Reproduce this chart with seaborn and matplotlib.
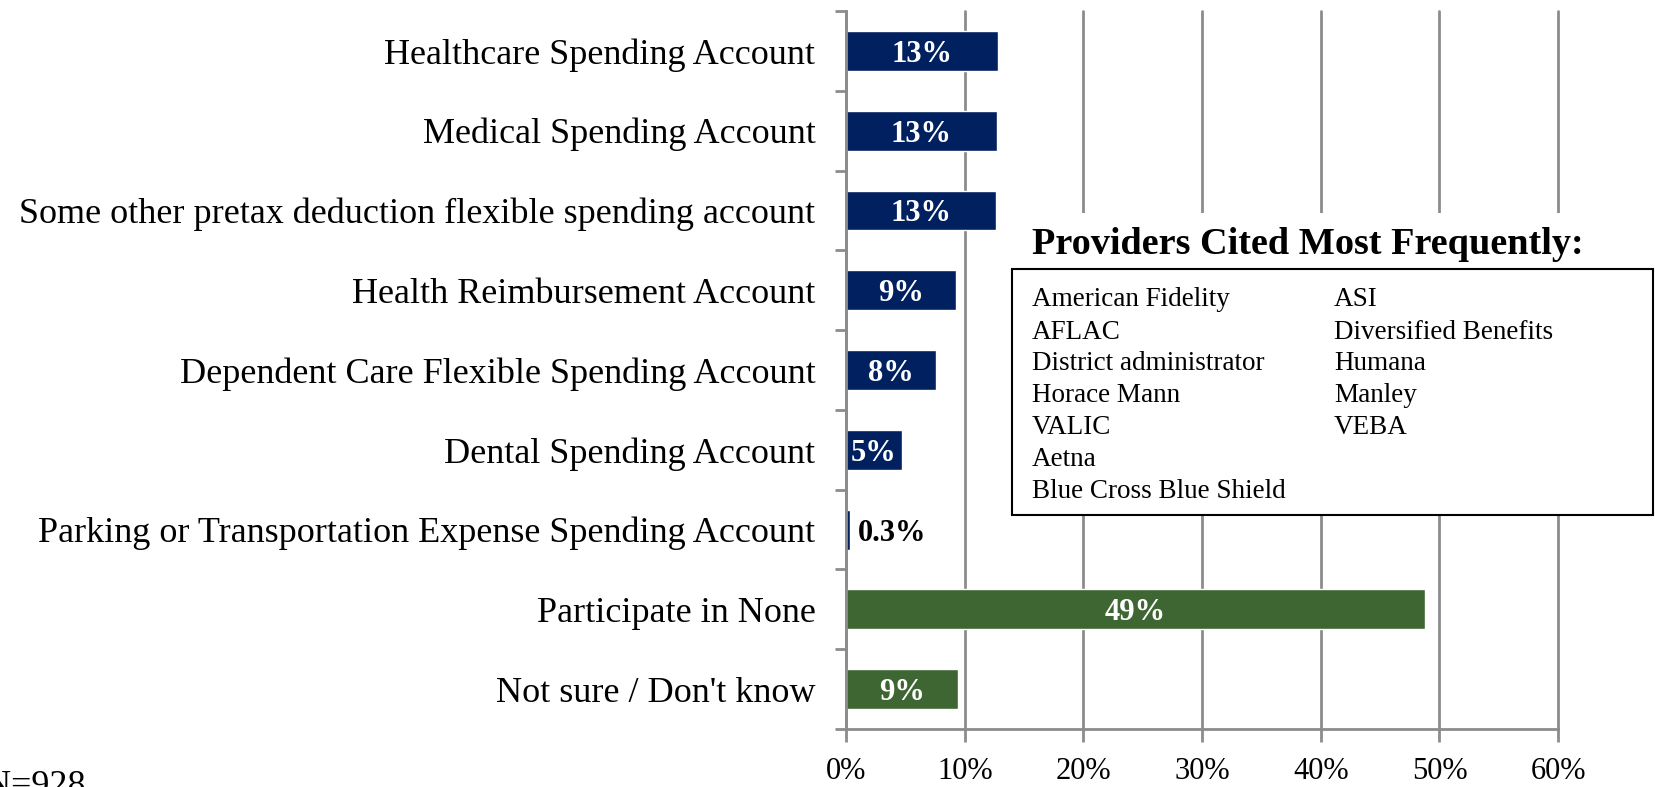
import numpy as np
import pandas as pd
import matplotlib
matplotlib.use("Agg")
from matplotlib import pyplot as plt
from matplotlib.patches import Rectangle
from matplotlib.ticker import FixedLocator, PercentFormatter
import seaborn as sns

categories = ["Healthcare Spending Account",
              "Medical Spending Account",
              "Some other pretax deduction flexible spending account",
              "Health Reimbursement Account",
              "Dependent Care Flexible Spending Account",
              "Dental Spending Account",
              "Parking or Transportation Expense Spending Account",
              "Participate in None",
              "Not sure / Don't know"]
values = [12.8, 12.7, 12.6, 9.3, 7.6, 4.7, 0.3, 48.8, 9.4]
labels = ["13%", "13%", "13%", "9%", "8%", "5%", "0.3%", "49%", "9%"]
groups = ["acct"] * 7 + ["none"] * 2
providers_left = ["American Fidelity", "AFLAC", "District administrator",
                  "Horace Mann", "VALIC", "Aetna", "Blue Cross Blue Shield"]
providers_right = ["ASI", "Diversified Benefits", "Humana", "Manley", "VEBA"]

df = pd.DataFrame({"cat": categories, "val": values, "grp": groups})

sns.set_theme(style="white")
plt.rcParams["font.family"] = ["Liberation Serif", "DejaVu Serif"]
plt.rcParams["text.color"] = "black"
grey = "#8c8c8c"

fig = plt.figure(figsize=(16.56, 7.87), dpi=100)
ax = fig.add_axes([0.5109, 0.0737, 0.4300, 0.9123])
sns.barplot(data=df, y="cat", x="val", hue="grp", orient="h", dodge=False,
            palette={"acct": "#012060", "none": "#3e6632"}, width=0.5,
            saturation=1, legend=False, ax=ax)

ax.set_xlim(0, 60)
ax.set_ylim(8.5, -0.5)
ax.set_xticks(range(0, 61, 10))
ax.xaxis.set_major_formatter(PercentFormatter(decimals=0))
ax.set_xlabel("")
ax.set_ylabel("")
ax.grid(axis="x", color=grey, lw=2)
for gl in ax.xaxis.get_gridlines():
    gl.set_clip_on(False)
ax.set_axisbelow(True)
for s in ["top", "right"]:
    ax.spines[s].set_visible(False)
for s in ["left", "bottom"]:
    ax.spines[s].set_color(grey)
    ax.spines[s].set_linewidth(2)

ax.tick_params(axis="y", which="major", length=0, pad=22, labelsize=26, labelcolor="black")
ax.yaxis.set_minor_locator(FixedLocator(np.arange(-0.5, 9, 1)))
ax.tick_params(axis="y", which="minor", left=True, length=8, width=2, color=grey)
ax.tick_params(axis="x", bottom=True, length=9, width=2, color=grey, pad=11,
               labelsize=22, labelcolor="black")

for i, (v, lab) in enumerate(zip(values, labels)):
    if v < 2:
        ax.text(v + 0.7, i, lab, ha="left", va="center_baseline", fontsize=22,
                fontweight="bold", color="black")
    else:
        ax.text(v / 2, i, lab, ha="center", va="center_baseline", fontsize=22,
                fontweight="bold", color="white")

# providers title area (white, hides the grid) and box
fig.patches.append(Rectangle((1012 / 1656, 1 - 270 / 787), 644 / 1656, 57 / 787,
                             transform=fig.transFigure, facecolor="white",
                             edgecolor="none", zorder=4))
fig.patches.append(Rectangle((1012 / 1656, 1 - 515 / 787), 641 / 1656, 246 / 787,
                             transform=fig.transFigure, fill=True, facecolor="white",
                             edgecolor="black", lw=1.5, zorder=5))
fig.text(1032 / 1656, 1 - 241 / 787, "Providers Cited Most Frequently:", color="black",
         fontsize=27.5, fontweight="bold", va="center_baseline", ha="left", zorder=6)
for j, p in enumerate(providers_left):
    fig.text(1032 / 1656, 1 - (297 + j * 32) / 787, p, fontsize=19.5, color="black",
             va="center_baseline", ha="left", zorder=6)
for j, p in enumerate(providers_right):
    fig.text(1334 / 1656, 1 - (297 + j * 32) / 787, p, fontsize=19.5, color="black",
             va="center_baseline", ha="left", zorder=6)

fig.text(-0.009, -0.01, "N=928", fontsize=26, color="black", ha="left", va="baseline")

fig.savefig("out.png", dpi=100)
